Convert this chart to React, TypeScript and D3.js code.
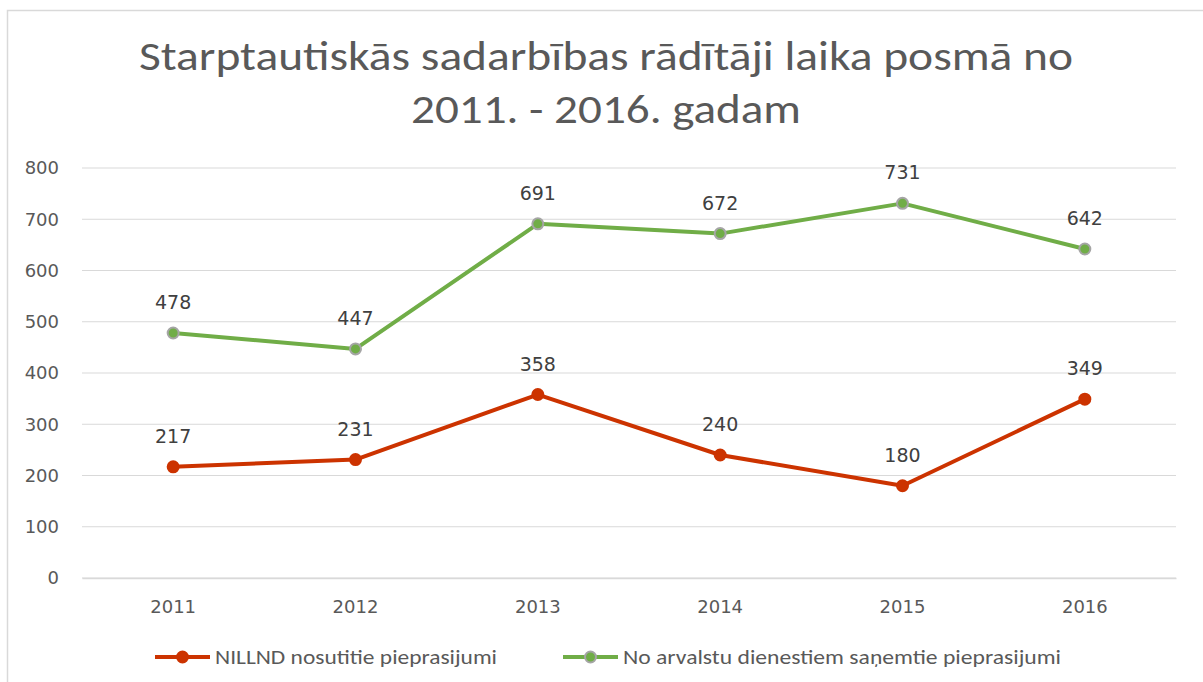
import React, { useEffect, useRef } from 'react';
import * as d3 from 'd3';

const years = ['2011', '2012', '2013', '2014', '2015', '2016'];
const sentRequests = [217, 231, 358, 240, 180, 349];
const receivedRequests = [478, 447, 691, 672, 731, 642];
const yTicks = [0, 100, 200, 300, 400, 500, 600, 700, 800];
const seriesNames = ['NILLND nosutitie pieprasijumi', 'No arvalstu dienestiem saņemtie pieprasijumi'];
const titleLines = ['Starptautiskās sadarbības rādītāji laika posmā no', '2011. - 2016. gadam'];

export default function App() {
  const ref = useRef<SVGSVGElement>(null);

  useEffect(() => {
    document.body.style.margin = '0';
    const svg = d3.select(ref.current);
    svg.selectAll('*').remove();

    // chart frame
    svg.append('rect')
      .attr('x', 7.5).attr('y', 10.5)
      .attr('width', 1210).attr('height', 700)
      .attr('fill', '#fff').attr('stroke', '#d9d9d9').attr('stroke-width', 1.5);

    // title, stretched to the width of the original
    const titleWidths = [934, 390];
    svg.append('g').selectAll('text')
      .data(titleLines)
      .join('text')
      .attr('x', 606)
      .attr('y', (d, i) => 70 + i * 53)
      .attr('text-anchor', 'middle')
      .attr('font-family', 'Carlito, "Open Sans", sans-serif')
      .attr('font-size', 40)
      .attr('textLength', (d, i) => titleWidths[i])
      .attr('lengthAdjust', 'spacingAndGlyphs')
      .attr('fill', '#595959')
      .text(d => d);

    const x = d3.scaleBand().domain(years).range([82, 1176]);
    const y = d3.scaleLinear().domain([0, 800]).range([578, 168]);

    // gridlines
    svg.append('g').selectAll('line')
      .data(yTicks)
      .join('line')
      .attr('x1', 82).attr('x2', 1176)
      .attr('y1', d => y(d)).attr('y2', d => y(d))
      .attr('stroke', '#d9d9d9').attr('stroke-width', 1);

    const yAxis = svg.append('g')
      .attr('transform', 'translate(65,0)')
      .call(d3.axisLeft(y).tickValues(yTicks).tickSize(0).tickPadding(6));
    yAxis.select('.domain').remove();
    yAxis.selectAll('text')
      .attr('font-family', '"DejaVu Sans", sans-serif')
      .attr('font-size', 18)
      .attr('fill', '#595959');

    const xAxis = svg.append('g')
      .attr('transform', 'translate(0,578)')
      .call(d3.axisBottom(x).tickSize(0).tickPadding(22));
    xAxis.select('.domain').attr('stroke', '#d9d9d9').attr('stroke-width', 1.5);
    xAxis.selectAll('text')
      .attr('font-family', '"DejaVu Sans", sans-serif')
      .attr('font-size', 18)
      .attr('fill', '#595959');

    const series = [
      { values: sentRequests, color: '#cc3300', marker: '#cc3300', markerStroke: '#cc3300' },
      { values: receivedRequests, color: '#70ad47', marker: '#70ad47', markerStroke: '#a5a5a5' },
    ];

    const cx = (i: number) => (x(years[i]) as number) + x.bandwidth() / 2;

    series.forEach(s => {
      const line = d3.line<number>()
        .x((d, i) => cx(i))
        .y(d => y(d));
      svg.append('path')
        .datum(s.values)
        .attr('fill', 'none')
        .attr('stroke', s.color)
        .attr('stroke-width', 4)
        .attr('stroke-linejoin', 'round')
        .attr('d', line);
      svg.append('g').selectAll('circle')
        .data(s.values)
        .join('circle')
        .attr('cx', (d, i) => cx(i))
        .attr('cy', d => y(d))
        .attr('r', 5.5)
        .attr('fill', s.marker)
        .attr('stroke', s.markerStroke)
        .attr('stroke-width', 2);
      svg.append('g').selectAll('text')
        .data(s.values)
        .join('text')
        .attr('x', (d, i) => cx(i))
        .attr('y', d => y(d) - 24)
        .attr('text-anchor', 'middle')
        .attr('font-family', '"DejaVu Sans", sans-serif')
        .attr('font-size', 19)
        .attr('fill', '#404040')
        .text(d => d);
    });

    // legend
    const legendX = [155, 563];
    const legendWidths = [282, 438];
    series.forEach((s, i) => {
      const g = svg.append('g').attr('transform', `translate(${legendX[i]},657)`);
      g.append('line')
        .attr('x1', 0).attr('x2', 55)
        .attr('stroke', s.color).attr('stroke-width', 4);
      g.append('circle')
        .attr('cx', 27.5).attr('r', 5.5)
        .attr('fill', s.marker).attr('stroke', s.markerStroke).attr('stroke-width', 2);
      g.append('text')
        .attr('x', 60).attr('y', 7)
        .attr('font-family', 'Carlito, "Open Sans", sans-serif')
        .attr('font-size', 20)
        .attr('textLength', legendWidths[i])
        .attr('lengthAdjust', 'spacingAndGlyphs')
        .attr('fill', '#595959')
        .text(seriesNames[i]);
    });
  }, []);

  return <svg ref={ref} width={1203} height={682} style={{ display: 'block' }} />;
}
